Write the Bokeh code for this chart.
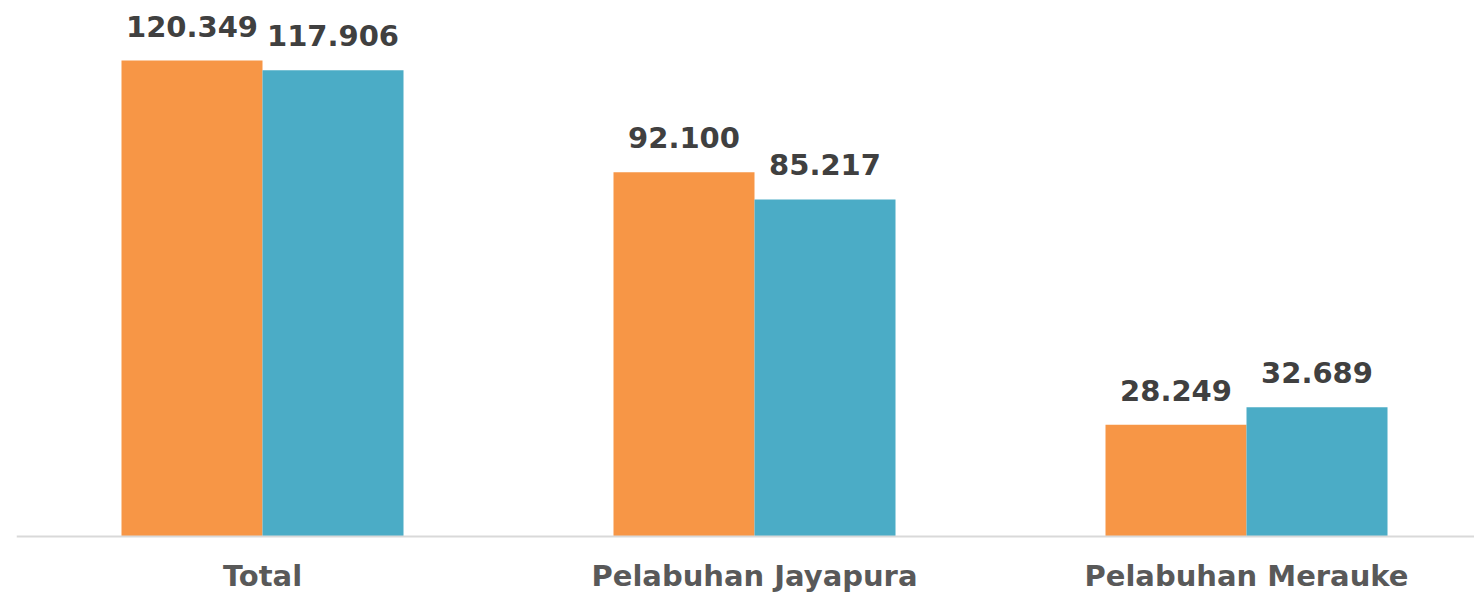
from bokeh.plotting import figure
from bokeh.models import Range1d, ColumnDataSource, FixedTicker
from bokeh.core.properties import value
from bokeh.embed import file_html
from bokeh.resources import INLINE

categories = ["Total", "Pelabuhan Jayapura", "Pelabuhan Merauke"]
series_a = [120.349, 92.100, 28.249]
series_b = [117.906, 85.217, 32.689]
labels_a = ["120.349", "92.100", "28.249"]
labels_b = ["117.906", "85.217", "32.689"]

xs = list(range(len(categories)))
off = 0.1433
bw = 0.2866
H = 594
base_px = 536          # pixel row of the baseline (from top)
ppu = (base_px - 60) / 120.349

p = figure(width=1474, height=H, output_backend="svg", toolbar_location=None,
           x_range=Range1d(-0.5, 2.4634),
           y_range=Range1d(-(H - base_px) / ppu, base_px / ppu),
           min_border_left=16, min_border_right=0, min_border_top=0, min_border_bottom=0)
p.outline_line_color = None
p.xgrid.grid_line_color = None
p.ygrid.grid_line_color = None
p.yaxis.visible = False

src_a = ColumnDataSource(dict(x=[x - off for x in xs], top=series_a, lab=labels_a))
src_b = ColumnDataSource(dict(x=[x + off for x in xs], top=series_b, lab=labels_b))

p.vbar(x="x", top="top", width=bw, bottom=0, source=src_a, fill_color="#F79646", line_color=None)
p.vbar(x="x", top="top", width=bw, bottom=0, source=src_b, fill_color="#4BACC6", line_color=None)

for s in (src_a, src_b):
    p.text(x="x", y="top", text="lab", source=s, text_align="center", text_baseline="bottom",
           y_offset=-24, text_font=value("DejaVu Sans"), text_font_style="bold",
           text_font_size="29px", text_color="#404040")

ax = p.xaxis[0]
ax.fixed_location = 0
ax.ticker = FixedTicker(ticks=xs)
ax.major_label_overrides = {i: c for i, c in enumerate(categories)}
ax.major_tick_line_color = None
ax.minor_tick_line_color = None
ax.major_tick_out = 0
ax.major_tick_in = 0
ax.major_label_standoff = 22
ax.axis_line_color = "#d9d9d9"
ax.axis_line_width = 2
ax.major_label_text_font = "DejaVu Sans"
ax.major_label_text_font_style = "bold"
ax.major_label_text_font_size = "29px"
ax.major_label_text_color = "#595959"

open("out.html", "w").write(file_html(p, INLINE))
